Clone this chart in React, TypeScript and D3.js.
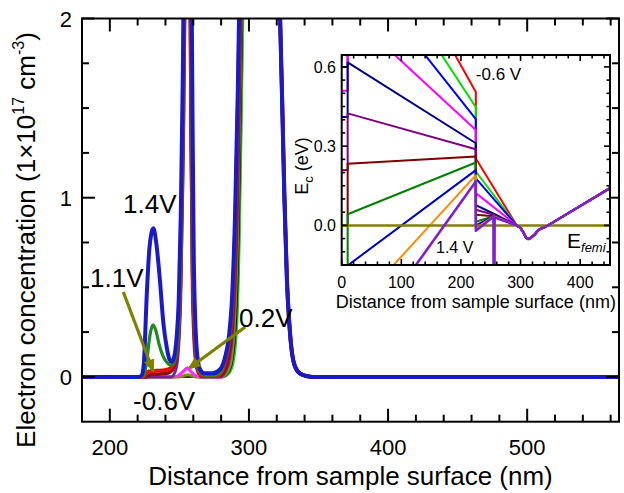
import React from 'react';
import * as d3 from 'd3';

// ---------- main plot data (x: nm, y: 1e17 cm^-3) ----------
const xMajorTicks = [200, 300, 400, 500];
const yMajorTicks = [0, 1, 2];

const wideFall = [[310, 3.2], [320, 2.8], [322.4, 2.0], [324, 1.5], [325.5, 1.0], [327.3, 0.54], [329, 0.3], [331, 0.13], [333, 0.06], [336.8, 0.018], [342, 0.004], [346, 0], [566, 0]];

const n14 = [[180, 0], [221, 0], [223, 0.01], [224.5, 0.08], [226.5, 0.45], [228.5, 0.72], [231.3, 0.83], [233.5, 0.74], [236, 0.54], [238.5, 0.3], [241, 0.16], [243, 0.095], [244.5, 0.083], [246.5, 0.12], [248, 0.22], [249.5, 0.42], [251, 0.9], [252.5, 1.7], [254, 3], [256, 4], [258, 3], [259.3, 1.6], [260.3, 0.7], [261.5, 0.3], [263, 0.11], [265, 0.04], [268, 0.02], [274, 0.02], [279, 0.04], [282.5, 0.1], [285.5, 0.22], [287.7, 0.42], [290, 0.9], [292, 1.6], [293.5, 2.3], [296, 3]];
const n12 = [[180, 0], [223, 0], [225, 0.02], [227, 0.12], [229, 0.24], [231, 0.29], [233, 0.26], [235.5, 0.18], [238, 0.12], [241, 0.08], [244, 0.065], [246, 0.08], [248, 0.15], [249.7, 0.32], [251.2, 0.75], [253, 1.7], [254.5, 3], [256, 4], [257.5, 3], [258.8, 1.6], [259.8, 0.7], [261, 0.3], [262.5, 0.1], [264.5, 0.03], [268, 0.01], [276, 0.01], [280, 0.03], [283, 0.1], [286, 0.22], [288, 0.42], [290.2, 0.9], [292.2, 1.6], [293.7, 2.3], [296.2, 3]];
const n11 = [[180, 0], [224, 0], [225.5, 0.015], [228, 0.03], [233, 0.034], [238, 0.036], [242, 0.042], [244.5, 0.055], [247, 0.1], [249, 0.22], [250.8, 0.55], [252.5, 1.3], [254, 2.4], [256, 4], [257.5, 2.6], [258.6, 1.4], [259.6, 0.6], [261, 0.25], [262.5, 0.08], [264.5, 0.02], [268, 0.005], [277, 0.005], [280.5, 0.03], [283.5, 0.1], [286.2, 0.22], [288.2, 0.42], [290.4, 0.9], [292.3, 1.6], [293.8, 2.3], [296.3, 3]];
const n08 = [[180, 0], [226, 0], [229, 0.012], [236, 0.016], [242, 0.022], [245, 0.04], [247, 0.08], [249, 0.18], [250.7, 0.5], [252.5, 1.4], [254.2, 2.6], [256, 4], [257.5, 2.6], [258.5, 1.4], [259.5, 0.6], [261, 0.2], [263, 0.05], [266, 0.005], [278, 0.005], [282, 0.03], [285, 0.1], [287.5, 0.25], [289.3, 0.5], [291, 0.9], [292.8, 1.6], [294.3, 2.3], [296.7, 3]];
const n05 = [[180, 0], [244, 0], [247, 0.03], [249, 0.12], [251, 0.45], [253, 1.3], [254.6, 2.5], [256, 3.5], [257.3, 2.5], [258.3, 1.3], [259.3, 0.5], [260.8, 0.15], [263, 0.03], [266, 0], [279, 0], [283, 0.03], [286, 0.1], [288.3, 0.25], [290, 0.5], [291.6, 0.9], [293.3, 1.6], [294.8, 2.3], [297, 3]];
const n02 = [[180, 0], [250, 0], [253, 0.006], [256, 0.012], [259, 0.006], [262, 0], [280, 0], [284, 0.02], [287, 0.08], [289.6, 0.3], [291.8, 0.8], [293.6, 1.6], [295.2, 2.3], [297.5, 3]];
const nm06 = [[180, 0], [247, 0], [249.5, 0.008], [252.5, 0.028], [255.8, 0.05], [258.5, 0.028], [261.5, 0.008], [264, 0], [281, 0], [285, 0.02], [288, 0.08], [290.8, 0.3], [292.8, 0.8], [294.5, 1.6], [296, 2.3], [298, 3]];
const nBlack = [[180, 0], [281, 0], [285, 0.02], [288, 0.08], [290.8, 0.3], [292.8, 0.8], [294.5, 1.6], [296, 2.3], [298, 3]];
const nLime = [[180, 0], [282, 0], [286, 0.02], [289, 0.08], [291.7, 0.3], [293.5, 0.8], [295.2, 1.6], [296.6, 2.3], [298.5, 3]];

const mainSeries = [
  { pts: nLime, color: '#12d012', w: 1.8 },
  { pts: nBlack, color: '#111111', w: 1.6 },
  { pts: n02, color: '#8a8a15', w: 3 },
  { pts: n05, color: '#7d1f8f', w: 3 },
  { pts: n08, color: '#8b1010', w: 3.5 },
  { pts: n11, color: '#e01010', w: 4 },
  { pts: n12, color: '#1f8a1f', w: 3.2 },
  { pts: n14, color: '#1a1ac8', w: 4 },
];
const magentaSeries = { pts: nm06, color: '#ff30ff', w: 3 };

// annotations (data coords)
const labels = [
  { t: '1.4V', x: 209.5, y: 0.913 },
  { t: '1.1V', x: 185.8, y: 0.5 },
  { t: '0.2V', x: 292.9, y: 0.277 },
  { t: '-0.6V', x: 216.7, y: -0.187 },
];
const arrows = [
  { x1: 209.7, y1: 0.474, x2: 231.3, y2: 0.03 },
  { x1: 297.3, y1: 0.278, x2: 256.5, y2: 0.045 },
];

// ---------- inset data (x: nm, y: eV) ----------
const insetXTicks = [0, 100, 200, 300, 400];
const insetYTicks = [0, 0.3, 0.6];
const ecTail = [[293.5, 0], [300, -0.01], [305, -0.028], [309, -0.046], [313, -0.052], [318, -0.046], [324, -0.034], [329, -0.02], [334, -0.012], [340, -0.008], [450, 0.141]];

const ecM06 = [[0, 1.2], [10, 1.2], [10, 1.37], [225, 0.505], [225, 0.253]];
const ecM04 = [[0, 1.0], [10, 1.0], [10, 1.19], [225, 0.447], [225, 0.204]];
const ecM02 = [[0, 0.6], [10, 0.6], [10, 1.015], [225, 0.402], [225, 0.178]];
const ec00 = [[0, 0.51], [10, 0.51], [10, 0.81], [225, 0.361], [225, 0.122]];
const ec02 = [[0, 0.41], [10, 0.41], [10, 0.617], [225, 0.311], [225, 0.077], [255, 0.044]];
const ec04 = [[0, 0.21], [10, 0.21], [10, 0.424], [225, 0.288], [225, 0.059], [255, 0.04]];
const ec06 = [[0, 0.0], [10, 0.0], [10, 0.233], [225, 0.261], [225, 0.04], [255, 0.035]];
const ec08 = [[0, -0.15], [10, -0.15], [10, 0.042], [225, 0.238], [225, 0.014], [255, 0.035]];
const ec10 = [[0, -0.3], [10, -0.3], [10, -0.152], [225, 0.209], [225, 0.0], [255, 0.034]];
const ec12 = [[0, -0.5], [10, -0.5], [10, -0.34], [225, 0.19], [225, -0.01], [255, 0.034]];
const ec14 = [[0, -0.7], [10, -0.7], [10, -0.51], [225, 0.166], [225, -0.02], [254.5, 0.033], [255.5, -0.8], [256.5, 0.03]];

const insetSeries = [
  { pts: ecM06, color: '#ff0000' },
  { pts: ecM04, color: '#00e000' },
  { pts: ecM02, color: '#0000ff' },
  { pts: ec00, color: '#ff00ff' },
  { pts: ec02, color: '#000080' },
  { pts: ec04, color: '#800080' },
  { pts: ec06, color: '#800000' },
  { pts: ec08, color: '#008000' },
  { pts: ec10, color: '#0000c8' },
  { pts: ec12, color: '#ff8c00' },
];
const ecViolet = { pts: ec14, color: '#7f1fd0' };
const fermi = [[0, 0], [450, 0]];

const FONT = "Arial, 'Liberation Sans', Helvetica, sans-serif";

export default function App() {
  const mx = d3.scaleLinear().domain([180, 566]).range([82, 619]);
  const my = d3.scaleLinear().domain([-0.25, 2]).range([421.7, 18.5]);
  const ix = d3.scaleLinear().domain([0, 450]).range([341.7, 610]);
  const iy = d3.scaleLinear().domain([-0.15, 0.645]).range([265, 55]);

  const mLine = d3.line<number[]>().x(d => mx(d[0])).y(d => my(d[1])).curve(d3.curveMonotoneX);
  const iLine = d3.line<number[]>().x(d => ix(d[0])).y(d => iy(d[1]));

  const [mx0, mx1] = mx.range();
  const [my0, my1] = my.range(); // bottom, top
  const [ix0, ix1] = ix.range();
  const [iy0, iy1] = iy.range();

  const xMinor = d3.range(180, 567, 20).filter(v => !xMajorTicks.includes(v));
  const yMinor = [0.25, 0.5, 0.75, 1.25, 1.5, 1.75];
  const ixMinor = d3.range(20, 450, 20).filter(v => v % 100 !== 0);
  const iyMinor = [-0.1, -0.05, 0.05, 0.1, 0.15, 0.2, 0.25, 0.35, 0.4, 0.45, 0.5, 0.55];

  const MAJ = 13, MIN = 7, IMAJ = 6, IMIN = 3.5;
  // magenta bump only (drawn on top), its rising edge sits beneath the others
  const magentaBump = magentaSeries.pts.filter(d => d[0] >= 240 && d[0] <= 270);

  return (
    <svg width={624} height={493} style={{ position: 'absolute', left: 0, top: 0, background: '#fff' }} fontFamily={FONT}>
      <defs>
        <clipPath id="mainClip"><rect x={mx0} y={my1} width={mx1 - mx0} height={my0 - my1} /></clipPath>
        <clipPath id="insetClip"><rect x={ix0} y={iy1} width={ix1 - ix0} height={iy0 - iy1} /></clipPath>
        <marker id="ah" markerUnits="userSpaceOnUse" markerWidth={13} markerHeight={11} refX={12} refY={5.5} orient="auto">
          <path d="M0,0 L13,5.5 L0,11 z" fill="#808000" />
        </marker>
      </defs>
      <rect x={0} y={0} width={624} height={493} fill="#fff" />

      {/* main curves */}
      <g clipPath="url(#mainClip)">
        <path d={mLine(magentaSeries.pts.concat(wideFall)) || ''} fill="none" stroke={magentaSeries.color} strokeWidth={magentaSeries.w} strokeLinejoin="round" />
        {mainSeries.map((s, i) => (
          <path key={i} d={mLine(s.pts.concat(wideFall)) || ''} fill="none" stroke={s.color} strokeWidth={s.w} strokeLinejoin="round" />
        ))}
      </g>

      {/* main frame & ticks */}
      <rect x={mx0} y={my1} width={mx1 - mx0} height={my0 - my1} fill="none" stroke="#000" strokeWidth={2} />
      {xMajorTicks.map(v => (
        <g key={'xm' + v}>
          <line x1={mx(v)} x2={mx(v)} y1={my0} y2={my0 - MAJ} stroke="#000" strokeWidth={2} />
          <line x1={mx(v)} x2={mx(v)} y1={my1} y2={my1 + MAJ} stroke="#000" strokeWidth={2} />
          <text x={mx(v)} y={455} textAnchor="middle" fontSize={22}>{v}</text>
        </g>
      ))}
      {xMinor.map(v => (
        <g key={'xn' + v}>
          <line x1={mx(v)} x2={mx(v)} y1={my0} y2={my0 - MIN} stroke="#000" strokeWidth={2} />
          <line x1={mx(v)} x2={mx(v)} y1={my1} y2={my1 + MIN} stroke="#000" strokeWidth={2} />
        </g>
      ))}
      {yMajorTicks.map(v => (
        <g key={'ym' + v}>
          <line x1={mx0} x2={mx0 + MAJ} y1={my(v)} y2={my(v)} stroke="#000" strokeWidth={2} />
          <line x1={mx1} x2={mx1 - MAJ} y1={my(v)} y2={my(v)} stroke="#000" strokeWidth={2} />
          <text x={72} y={my(v) + 8} textAnchor="end" fontSize={22}>{v}</text>
        </g>
      ))}
      {yMinor.map(v => (
        <g key={'yn' + v}>
          <line x1={mx0} x2={mx0 + MIN} y1={my(v)} y2={my(v)} stroke="#000" strokeWidth={2} />
          <line x1={mx1} x2={mx1 - MIN} y1={my(v)} y2={my(v)} stroke="#000" strokeWidth={2} />
        </g>
      ))}

      {/* axis titles */}
      <text x={(mx0 + mx1) / 2} y={485} textAnchor="middle" fontSize={26}>Distance from sample surface (nm)</text>
      <text transform={`translate(35,240) rotate(-90)`} textAnchor="middle" fontSize={26}>
        Electron concentration (1×10<tspan dy={-11} fontSize={16}>17</tspan><tspan dy={11}> cm</tspan><tspan dy={-11} fontSize={16}>-3</tspan><tspan dy={11}>)</tspan>
      </text>

      {/* annotations */}
      {arrows.map((a, i) => (
        <line key={'ar' + i} x1={mx(a.x1)} y1={my(a.y1)} x2={mx(a.x2)} y2={my(a.y2)} stroke="#808000" strokeWidth={3.2} markerEnd="url(#ah)" />
      ))}
      <path d={mLine(magentaBump) || ''} fill="none" stroke={magentaSeries.color} strokeWidth={magentaSeries.w} strokeLinejoin="round" clipPath="url(#mainClip)" />
      {labels.map((l, i) => (
        <text key={'lb' + i} x={mx(l.x)} y={my(l.y)} fontSize={26}>{l.t}</text>
      ))}

      {/* inset */}
      <rect x={ix0} y={iy1} width={ix1 - ix0} height={iy0 - iy1} fill="#fff" />
      <g clipPath="url(#insetClip)">
        {insetSeries.map((s, i) => (
          <path key={i} d={iLine(s.pts.concat(ecTail)) || ''} fill="none" stroke={s.color} strokeWidth={2} strokeLinejoin="round" />
        ))}
        <path d={iLine(fermi) || ''} fill="none" stroke="#808000" strokeWidth={2.5} />
        <path d={iLine(ecViolet.pts.concat(ecTail)) || ''} fill="none" stroke={ecViolet.color} strokeWidth={2.6} strokeLinejoin="round" />
      </g>
      <rect x={ix0} y={iy1} width={ix1 - ix0} height={iy0 - iy1} fill="none" stroke="#000" strokeWidth={2} />
      {insetXTicks.map(v => (
        <g key={'ixm' + v}>
          <line x1={ix(v)} x2={ix(v)} y1={iy0} y2={iy0 - IMAJ} stroke="#000" strokeWidth={1.6} />
          <line x1={ix(v)} x2={ix(v)} y1={iy1} y2={iy1 + IMAJ} stroke="#000" strokeWidth={1.6} />
          <text x={ix(v)} y={288} textAnchor="middle" fontSize={16}>{v}</text>
        </g>
      ))}
      {ixMinor.map(v => (
        <g key={'ixn' + v}>
          <line x1={ix(v)} x2={ix(v)} y1={iy0} y2={iy0 - IMIN} stroke="#000" strokeWidth={1.6} />
          <line x1={ix(v)} x2={ix(v)} y1={iy1} y2={iy1 + IMIN} stroke="#000" strokeWidth={1.6} />
        </g>
      ))}
      {insetYTicks.map(v => (
        <g key={'iym' + v}>
          <line x1={ix0} x2={ix0 + IMAJ} y1={iy(v)} y2={iy(v)} stroke="#000" strokeWidth={1.6} />
          <line x1={ix1} x2={ix1 - IMAJ} y1={iy(v)} y2={iy(v)} stroke="#000" strokeWidth={1.6} />
          <text x={336} y={iy(v) + 6} textAnchor="end" fontSize={16}>{v.toFixed(1)}</text>
        </g>
      ))}
      {iyMinor.map(v => (
        <g key={'iyn' + v}>
          <line x1={ix0} x2={ix0 + IMIN} y1={iy(v)} y2={iy(v)} stroke="#000" strokeWidth={1.6} />
          <line x1={ix1} x2={ix1 - IMIN} y1={iy(v)} y2={iy(v)} stroke="#000" strokeWidth={1.6} />
        </g>
      ))}
      <text x={(ix0 + ix1) / 2} y={308} textAnchor="middle" fontSize={18}>Distance from sample surface (nm)</text>
      <text transform={`translate(308,166) rotate(-90)`} textAnchor="middle" fontSize={18}>
        E<tspan dy={5} fontSize={13}>c</tspan><tspan dy={-5}> (eV)</tspan>
      </text>
      <text x={ix(225)} y={80} fontSize={17}>-0.6 V</text>
      <text x={436} y={253} fontSize={16}>1.4 V</text>
      <text x={567} y={248} fontSize={21}>E<tspan dy={4} fontSize={13} fontStyle="italic">femi</tspan></text>
    </svg>
  );
}
